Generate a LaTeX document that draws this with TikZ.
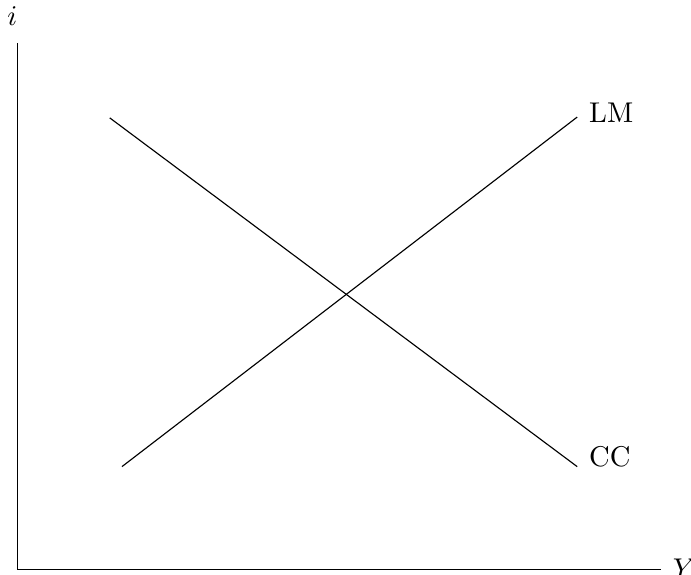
\documentclass[tikz,border=0pt]{standalone}
\begin{document}
\begin{tikzpicture}
        \useasboundingbox (-0.21,-0.06) rectangle (8.29,7.01);
        \draw (0,6.48) -- (0,0) -- (7.92,0);
        \node[anchor=base,inner sep=0pt] (ilab) at (-0.06,6.70) {$i$};
        \node[anchor=base west,inner sep=0pt] (ylab) at (8.06,-0.10) {$Y$};
        \coordinate (cc0) at (1.14,5.56);
        \coordinate (cc1) at (6.89,1.27);
        \coordinate (lm0) at (1.29,1.27);
        \coordinate (lm1) at (6.89,5.57);
        \draw (cc0) -- (cc1);
        \draw (lm0) -- (lm1);
        \node[anchor=base west,inner sep=0pt] (lmlab) at (7.03,5.50) {LM};
        \node[anchor=base west,inner sep=0pt] (cclab) at (7.03,1.27) {CC};
    \end{tikzpicture}
\end{document}
